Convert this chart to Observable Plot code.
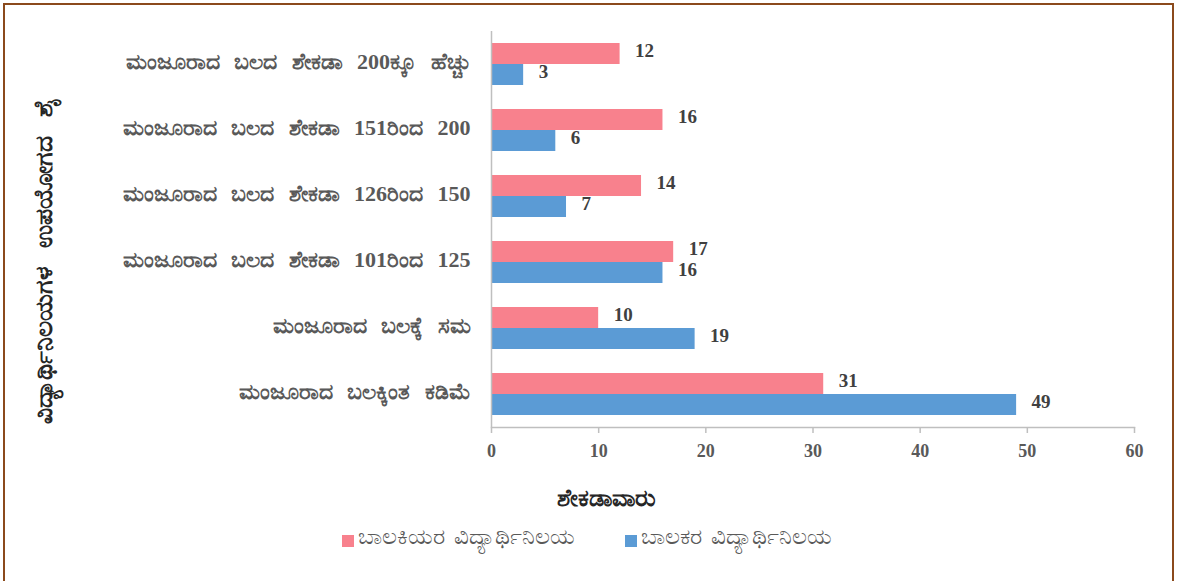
<!DOCTYPE html>
<html>
<head>
<meta charset="utf-8">
<script src="https://cdn.jsdelivr.net/npm/d3@7"></script>
<script src="https://cdn.jsdelivr.net/npm/@observablehq/plot@0.6"></script>
<style>
  body { margin: 0; background: #fff; }
  #wrap { position: relative; width: 1187px; height: 581px; overflow: hidden; font-family: "Liberation Serif", serif; }
  #border { position: absolute; left: 3px; top: 3px; width: 1171px; height: 590px; border: 2px solid #8b4a1c; box-sizing: border-box; }
  #chart { position: absolute; left: 0; top: 0; }
  #ylabel { position: absolute; left: 44px; top: 261px; transform: translate(-50%, -50%) rotate(-90deg); white-space: nowrap; font-size: 25px; word-spacing: 12px; font-weight: bold; color: #262626; }
  #xtitle { position: absolute; left: 0; top: 485px; width: 1212px; text-align: center; font-size: 24px; font-weight: bold; color: #262626; }
  #legend { position: absolute; left: 342px; top: 524px; display: flex; gap: 50px; font-size: 23px; word-spacing: 3px; color: #595959; }
  .item { display: flex; align-items: center; }
  .sw { width: 12px; height: 12px; margin-right: 4px; margin-top: 8px; }
  #chart g[aria-label="fy-axis tick label"] text { word-spacing: 9px; }
</style>
</head>
<body>
<div id="wrap">
  <div id="border"></div>
  <div id="chart"></div>
  <div id="ylabel"></div>
  <div id="xtitle"></div>
  <div id="legend"></div>
</div>
<script>
const categories = [
  "ಮಂಜೂರಾದ ಬಲದ ಶೇಕಡಾ 200ಕ್ಕೂ ಹೆಚ್ಚು",
  "ಮಂಜೂರಾದ ಬಲದ ಶೇಕಡಾ 151ರಿಂದ 200",
  "ಮಂಜೂರಾದ ಬಲದ ಶೇಕಡಾ 126ರಿಂದ 150",
  "ಮಂಜೂರಾದ ಬಲದ ಶೇಕಡಾ 101ರಿಂದ 125",
  "ಮಂಜೂರಾದ ಬಲಕ್ಕೆ ಸಮ",
  "ಮಂಜೂರಾದ ಬಲಕ್ಕಿಂತ ಕಡಿಮೆ"
];
const seriesNames = ["ಬಾಲಕಿಯರ ವಿದ್ಯಾರ್ಥಿನಿಲಯ", "ಬಾಲಕರ ವಿದ್ಯಾರ್ಥಿನಿಲಯ"];
const girlsValues = [12, 16, 14, 17, 10, 31];
const boysValues = [3, 6, 7, 16, 19, 49];
const seriesColors = ["#f8818d", "#5b9bd5"];
const xTicks = [0, 10, 20, 30, 40, 50, 60];
const xTitle = "ಶೇಕಡಾವಾರು";
const yTitle = "ವಿದ್ಯಾರ್ಥಿನಿಲಯಗಳ ಉಪಯೋಗದ ಶೈ";

const data = categories.flatMap((c, i) => [
  {cat: c, series: seriesNames[0], value: girlsValues[i]},
  {cat: c, series: seriesNames[1], value: boysValues[i]}
]);

const chart = Plot.plot({
  width: 1187,
  height: 470,
  marginLeft: 491,
  marginRight: 53,
  marginTop: 31,
  marginBottom: 43,
  style: {fontFamily: "'Liberation Serif', serif", background: "transparent"},
  x: {domain: [0, 60], ticks: xTicks},
  fy: {domain: categories, padding: 0},
  y: {domain: seriesNames, paddingInner: 0, paddingOuter: 0.56, axis: null},
  color: {domain: seriesNames, range: seriesColors},
  marks: [
    Plot.barX(data, {fy: "cat", y: "series", x: "value", fill: "series"}),
    Plot.ruleX([0], {stroke: "#bfbfbf", strokeWidth: 1.5}),
    Plot.frame({anchor: "bottom", facetAnchor: "bottom", stroke: "#bfbfbf", strokeWidth: 1.5}),
    Plot.text(data, {fy: "cat", y: "series", x: "value", text: d => String(d.value), dx: 15, dy: -3, textAnchor: "start", fontSize: 19, fontWeight: "bold", fill: "#404040"}),
    Plot.axisFy({anchor: "left", tickSize: 0, tickPadding: 21, dy: -3, label: null, fontSize: 22, fontWeight: "bold", fill: "#595959"}),
    Plot.axisX({ticks: xTicks, tickSize: 6, stroke: "#bfbfbf", strokeWidth: 1.5, text: null, label: null}),
    Plot.axisX({ticks: xTicks, tickSize: 0, tickPadding: 17, label: null, fontSize: 18, fontWeight: "bold", fill: "#595959"})
  ]
});
document.getElementById("chart").appendChild(chart);
document.getElementById("xtitle").textContent = xTitle;
document.getElementById("ylabel").textContent = yTitle;
const legend = document.getElementById("legend");
seriesNames.forEach((s, i) => {
  const it = document.createElement("div");
  it.className = "item";
  const sw = document.createElement("span");
  sw.className = "sw";
  sw.style.background = seriesColors[i];
  const t = document.createElement("span");
  t.textContent = s;
  it.appendChild(sw); it.appendChild(t);
  legend.appendChild(it);
});
</script>
</body>
</html>
